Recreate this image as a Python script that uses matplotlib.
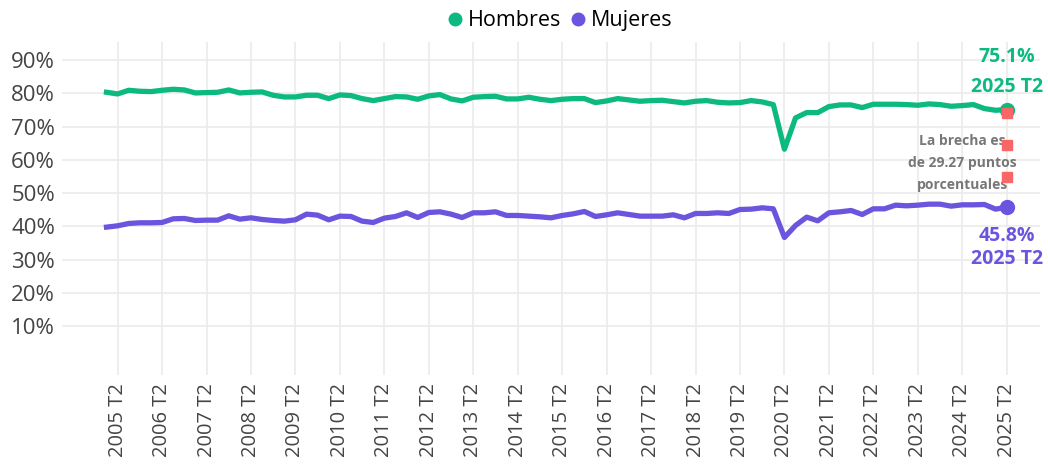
import matplotlib
matplotlib.use("Agg")
import matplotlib.pyplot as plt
from matplotlib.lines import Line2D
import numpy as np

plt.rcParams['font.family'] = ['Open Sans', 'DejaVu Sans']

# quarterly series, 2005 T1 .. 2025 T2
start_year = 2005
hombres = [80.3, 79.8, 80.9, 80.6, 80.5, 80.9, 81.2, 81.0, 80.1, 80.2,
           80.3, 81.0, 80.1, 80.3, 80.4, 79.4, 78.9, 78.9, 79.4, 79.4,
           78.4, 79.5, 79.3, 78.4, 77.8, 78.4, 79.0, 78.9, 78.2, 79.2,
           79.6, 78.3, 77.7, 78.8, 79.0, 79.1, 78.3, 78.3, 78.8, 78.2,
           77.8, 78.2, 78.4, 78.4, 77.2, 77.7, 78.4, 78.0, 77.6, 77.8,
           77.9, 77.5, 77.1, 77.6, 77.8, 77.3, 77.1, 77.2, 77.8, 77.4,
           76.6, 63.2, 72.6, 74.2, 74.2, 76.0, 76.5, 76.5, 75.7, 76.7,
           76.7, 76.7, 76.6, 76.4, 76.8, 76.6, 76.1, 76.3, 76.6, 75.4,
           74.9, 75.1]
mujeres = [39.8, 40.2, 40.9, 41.1, 41.1, 41.2, 42.3, 42.4, 41.8, 41.9,
           41.9, 43.2, 42.2, 42.6, 42.1, 41.8, 41.6, 42.0, 43.7, 43.4,
           42.0, 43.1, 43.0, 41.6, 41.2, 42.5, 43.0, 44.1, 42.7, 44.2,
           44.4, 43.7, 42.7, 44.1, 44.1, 44.4, 43.3, 43.3, 43.1, 42.9,
           42.6, 43.3, 43.8, 44.5, 43.0, 43.5, 44.1, 43.6, 43.1, 43.1,
           43.1, 43.5, 42.6, 43.9, 43.9, 44.1, 43.9, 45.1, 45.2, 45.6,
           45.3, 36.7, 40.3, 42.8, 41.7, 44.1, 44.4, 44.8, 43.6, 45.3,
           45.3, 46.4, 46.2, 46.4, 46.7, 46.7, 46.1, 46.5, 46.5, 46.6,
           45.2, 45.8]
brecha = 29.27
brecha_marks = [74.0, 64.4, 54.8]
y_ticks = [10, 20, 30, 40, 50, 60, 70, 80, 90]

green = '#0cb981'
purple = '#6a55df'
red = '#f96666'

n = len(hombres)
x = np.arange(n)
labels = [f"{start_year + (i // 4)} T{i % 4 + 1}" for i in range(n)]
tick_idx = [i for i in range(n) if i % 4 == 1]

fig = plt.figure(figsize=(10.48, 4.66), dpi=100)
ax = fig.add_axes([0.0592, 0.1953, 0.9332, 0.7146])

ax.plot(x, hombres, color=green, lw=3.8, solid_joinstyle='round', zorder=3)
ax.plot(x, mujeres, color=purple, lw=3.8, solid_joinstyle='round', zorder=3)
ax.plot(x[-1], hombres[-1], 'o', color=green, ms=10, zorder=4)
ax.plot(x[-1], mujeres[-1], 'o', color=purple, ms=10, zorder=4)
ax.plot([x[-1]] * len(brecha_marks), brecha_marks, 's', color=red, ms=6.5, zorder=6)

ax.set_xlim(-4, 84)
ax.set_ylim(-4.6, 95.4)
ax.set_yticks(y_ticks)
ax.set_yticklabels([f"{v}%" for v in y_ticks])
ax.set_xticks(tick_idx)
ax.set_xticklabels([labels[i] for i in tick_idx], rotation=90)
ax.tick_params(axis='both', length=0, labelcolor='#444444')
ax.tick_params(axis='x', pad=6, labelsize=14.5)
ax.tick_params(axis='y', pad=5, labelsize=16)
ax.grid(True, color='#ebebeb', lw=1.2)
ax.set_axisbelow(True)
for s in ax.spines.values():
    s.set_visible(False)

last = labels[-1]
lab = dict(fontsize=14, fontweight='bold', ha='center', va='center', zorder=5)
ax.text(x[-1], 90.8, f"{hombres[-1]:.1f}%", color=green, **lab)
ax.text(x[-1], 81.8, last, color=green, **lab)
ax.text(x[-1], 37.2, f"{mujeres[-1]:.1f}%", color=purple, **lab)
ax.text(x[-1], 30.2, last, color=purple, **lab)
ax.text(x[-1] - 4.0, 59.0, f"La brecha es\nde {brecha:.2f} puntos\nporcentuales",
        color='#777777', fontsize=10, fontweight='bold', ha='center', va='center',
        linespacing=1.7, zorder=5)

handles = [Line2D([], [], marker='o', ls='', color=green, ms=9),
           Line2D([], [], marker='o', ls='', color=purple, ms=9)]
fig.legend(handles, ['Hombres', 'Mujeres'], loc='upper center',
           bbox_to_anchor=(0.533, 1.02), ncol=2, frameon=False, fontsize=15.5,
           handletextpad=0.1, columnspacing=0.3, handlelength=1.0)

fig.savefig('out.png', dpi=100)
